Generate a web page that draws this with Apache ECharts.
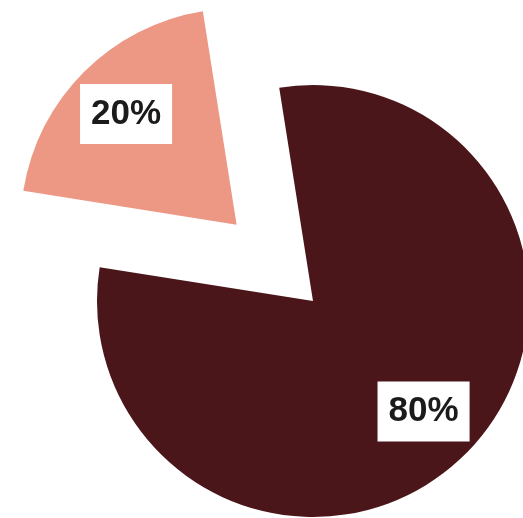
<!DOCTYPE html>
<html>
<head>
<meta charset="utf-8">
<script src="https://cdn.jsdelivr.net/npm/echarts@6/dist/echarts.min.js"></script>
<style>
  html, body { margin: 0; padding: 0; background: #ffffff; }
  #chart { width: 523px; height: 518px; }
</style>
</head>
<body>
<div id="chart"></div>
<script>
// Share split, in percent
const categories = ['Majority', 'Minority'];
const shares = [80, 20];
const colors = ['#4b161a', '#ec9884'];

const pieCenter = [313, 301];
const pieRadius = 216;
const explodeOffset = 108;
const startAngle = 99;

const sliceData = categories.map((name, i) => ({
  name: name,
  value: shares[i],
  selected: i === 1,
  itemStyle: { color: colors[i] }
}));

// Transparent copy of the slices, larger, used only to place the value boxes
const labelData = categories.map((name, i) => ({
  name: name,
  value: shares[i],
  selected: i === 1,
  itemStyle: { color: 'rgba(0,0,0,0)' }
}));

const chart = echarts.init(document.getElementById('chart'), null, { renderer: 'canvas' });
chart.setOption({
  backgroundColor: '#ffffff',
  animation: false,
  series: [
    {
      type: 'pie',
      center: pieCenter,
      radius: [0, pieRadius],
      startAngle: startAngle,
      clockwise: true,
      selectedMode: 'single',
      selectedOffset: explodeOffset,
      silent: true,
      label: { show: false },
      labelLine: { show: false },
      emphasis: { disabled: true },
      data: sliceData
    },
    {
      type: 'pie',
      center: pieCenter,
      radius: [0, pieRadius * 1.42],
      startAngle: startAngle,
      clockwise: true,
      selectedMode: 'single',
      selectedOffset: explodeOffset,
      silent: true,
      z: 5,
      labelLine: { show: false },
      emphasis: { disabled: true },
      label: {
        show: true,
        position: 'inside',
        formatter: '{c}%',
        fontFamily: 'Liberation Sans',
        fontWeight: 'bold',
        fontSize: 35,
        lineHeight: 40,
        color: '#1b1b1b',
        backgroundColor: '#ffffff',
        padding: [10, 11, 10, 11]
      },
      select: {
        label: {
          color: '#1b1b1b',
          fontWeight: 'bold'
        }
      },
      data: labelData
    }
  ]
});
</script>
</body>
</html>
